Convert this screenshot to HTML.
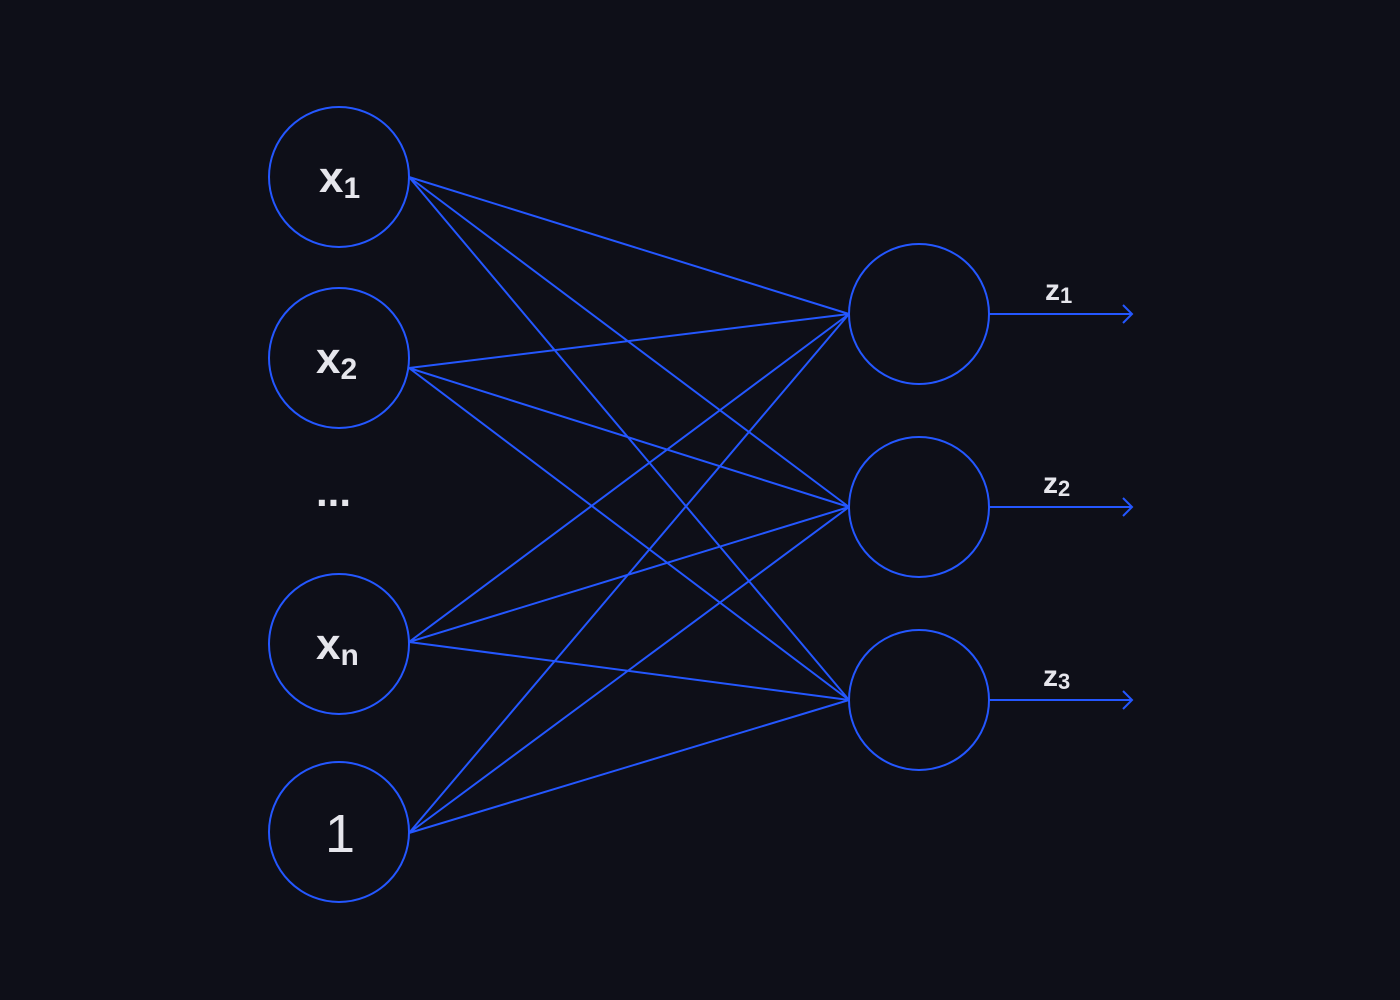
<!DOCTYPE html>
<html><head><style>
html,body{margin:0;padding:0;background:#0e0f18;}
svg{display:block}
text{font-family:"Liberation Sans",sans-serif;fill:#e6e6ec;font-weight:bold}
</style></head><body>
<svg width="1400" height="1000" viewBox="0 0 1400 1000" xmlns="http://www.w3.org/2000/svg">
<rect width="1400" height="1000" fill="#0e0f18"/>
<g stroke="#2457ff" stroke-width="2" fill="none">
<circle cx="339" cy="177" r="70"/>
<circle cx="339" cy="358" r="70"/>
<circle cx="339" cy="644" r="70"/>
<circle cx="339" cy="832" r="70"/>
<circle cx="919" cy="314" r="70"/>
<circle cx="919" cy="507" r="70"/>
<circle cx="919" cy="700" r="70"/>
<path d="M409 177L849 314M409 177L849 507M409 177L849 700
M409 368L849 314M409 368L849 507M409 368L849 700
M409 642L849 314M409 642L849 507M409 642L849 700
M409 833L849 314M409 833L849 507M409 833L849 700"/>
<path d="M989 314H1132M1123 305L1132 314L1123 323"/>
<path d="M989 507H1132M1123 498L1132 507L1123 516"/>
<path d="M989 700H1132M1123 691L1132 700L1123 709"/>
</g>
<text x="319" y="192" font-size="44">x<tspan font-size="30" dy="6">1</tspan></text>
<text x="316" y="373" font-size="44">x<tspan font-size="30" dy="6">2</tspan></text>
<text x="316" y="659" font-size="44">x<tspan font-size="30" dy="6">n</tspan></text>
<text x="325" y="852" font-size="54" style="font-weight:normal">1</text>
<text x="316" y="506" font-size="42">...</text>
<text x="1045" y="300" font-size="30">z<tspan font-size="22" dy="3">1</tspan></text>
<text x="1043" y="493" font-size="30">z<tspan font-size="22" dy="3">2</tspan></text>
<text x="1043" y="686" font-size="30">z<tspan font-size="22" dy="3">3</tspan></text>
</svg>
</body></html>
